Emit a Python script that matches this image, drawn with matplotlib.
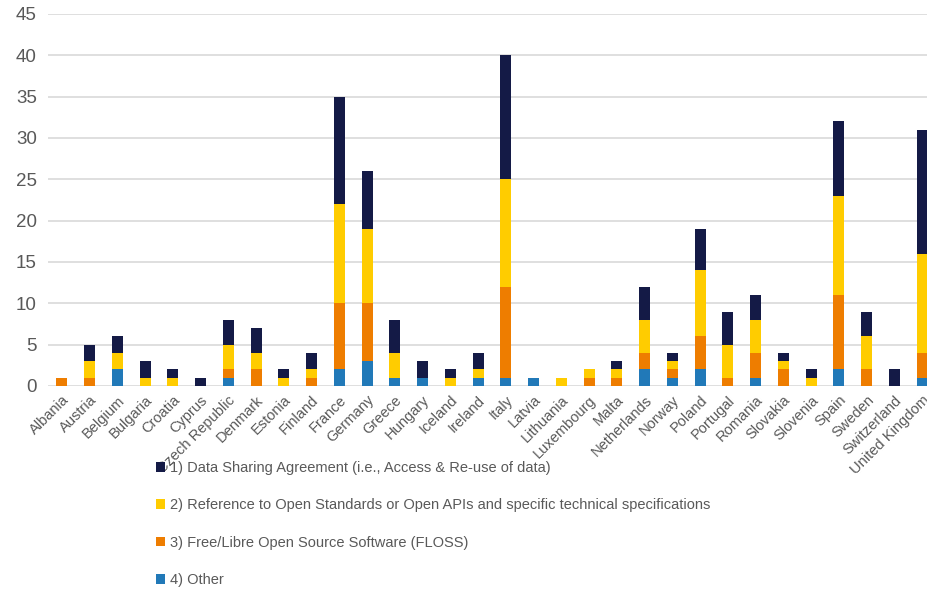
import matplotlib
matplotlib.use('Agg')
import matplotlib.pyplot as plt
import numpy as np

plt.rcParams['font.family'] = ['Liberation Sans', 'DejaVu Sans']

countries = ['Albania', 'Austria', 'Belgium', 'Bulgaria', 'Croatia', 'Cyprus',
             'Czech Republic', 'Denmark', 'Estonia', 'Finland', 'France',
             'Germany', 'Greece', 'Hungary', 'Iceland', 'Ireland', 'Italy',
             'Latvia', 'Lithuania', 'Luxembourg', 'Malta', 'Netherlands',
             'Norway', 'Poland', 'Portugal', 'Romania', 'Slovakia', 'Slovenia',
             'Spain', 'Sweden', 'Switzerland', 'United Kingdom']

other = [0, 0, 2, 0, 0, 0, 1, 0, 0, 0, 2, 3, 1, 1, 0, 1, 1,
         1, 0, 0, 0, 2, 1, 2, 0, 1, 0, 0, 2, 0, 0, 1]
floss = [1, 1, 0, 0, 0, 0, 1, 2, 0, 1, 8, 7, 0, 0, 0, 0, 11,
         0, 0, 1, 1, 2, 1, 4, 1, 3, 2, 0, 9, 2, 0, 3]
standards = [0, 2, 2, 1, 1, 0, 3, 2, 1, 1, 12, 9, 3, 0, 1, 1, 13,
             0, 1, 1, 1, 4, 1, 8, 4, 4, 1, 1, 12, 4, 0, 12]
data_sharing = [0, 2, 2, 2, 1, 1, 3, 3, 1, 2, 13, 7, 4, 2, 1, 2, 15,
                0, 0, 0, 1, 4, 1, 5, 4, 3, 1, 1, 9, 3, 2, 15]

series = [
    ('4) Other', other, '#2179b8'),
    ('3) Free/Libre Open Source Software (FLOSS)', floss, '#ee7d00'),
    ('2) Reference to Open Standards or Open APIs and specific technical specifications',
     standards, '#ffcc00'),
    ('1) Data Sharing Agreement (i.e., Access & Re-use of data)',
     data_sharing, '#141a46'),
]

text_color = '#595959'
grid_color = '#d9d9d9'

fig = plt.figure(figsize=(9.28, 5.91), dpi=100)
ax = fig.add_axes([48 / 928, 1 - 386 / 591, 888 / 928, 372 / 591])

x = np.arange(len(countries))
bottom = np.zeros(len(countries))
handles = []
for label, vals, color in series:
    h = ax.bar(x, vals, 0.4, bottom=bottom, color=color, label=label,
               zorder=3)
    handles.append(h)
    bottom += np.array(vals)

ax.set_xlim(-0.5, len(countries) - 0.5)
ax.set_ylim(0, 45)
ax.set_yticks(range(0, 46, 5))
ax.grid(axis='y', color=grid_color, linewidth=1.2, zorder=0)
for spine in ax.spines.values():
    spine.set_visible(False)
ax.tick_params(length=0, colors=text_color)
ax.tick_params(axis='y', labelsize=13.5, pad=8)
ax.set_xticks(x)
ax.set_xticklabels(countries, rotation=45, ha='right', rotation_mode='anchor',
                   fontsize=10.5, color=text_color)
ax.tick_params(axis='x', pad=5)

leg = fig.legend(handles[::-1], [s[0] for s in series][::-1],
                 loc='upper left', bbox_to_anchor=(150 / 928, 1 - 455 / 591),
                 frameon=False, fontsize=10.5, labelspacing=1.6,
                 handlelength=0.65, handleheight=0.65, handletextpad=0.3,
                 borderaxespad=0)
for t in leg.get_texts():
    t.set_color(text_color)

fig.savefig('out.png', dpi=100, facecolor='white')
